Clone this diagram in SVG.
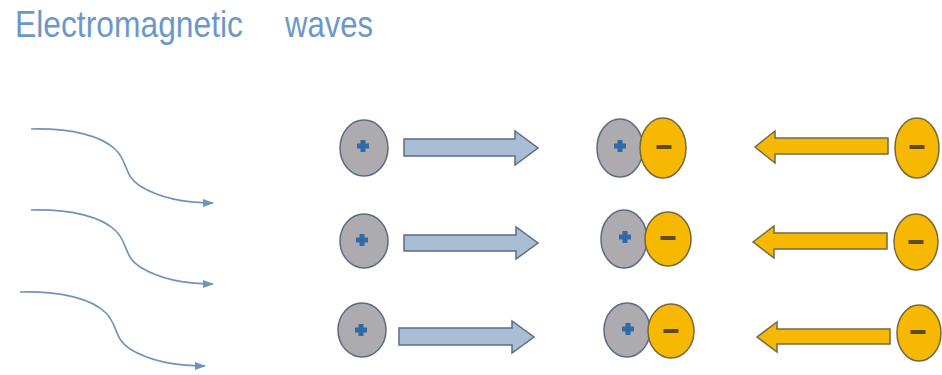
<svg xmlns="http://www.w3.org/2000/svg" width="942" height="375" viewBox="0 0 942 375">
<style>
.title{font-family:"Liberation Sans",Arial,sans-serif;font-size:36px;fill:#6b98c9}
.wave{fill:none;stroke:#6f94ba;stroke-width:1.6}
.pos{fill:#adaab0;stroke:#5c6c80;stroke-width:1.5}
.neg{fill:#f6b800;stroke:#76683a;stroke-width:1.5}
.plus{fill:#2f6aa6}
.minus{fill:#5b4b22}
.barrow{fill:#a9bdd5;stroke:#5a6d82;stroke-width:1.5;stroke-linejoin:miter}
.yarrow{fill:#f6b800;stroke:#6e6a4c;stroke-width:1.5;stroke-linejoin:miter}
</style>
<defs>
<marker id="ah" markerUnits="userSpaceOnUse" markerWidth="12" markerHeight="10" refX="10" refY="4" orient="auto">
<path d="M0,0 L11,4 L0,8 Z" fill="#6f94ba"/>
</marker>
<g id="plusSign"><rect x="-6" y="-2.5" width="12" height="5" class="plus"/><rect x="-2.5" y="-6" width="5" height="12" class="plus"/></g>
<g id="minusSign"><rect x="-7.5" y="-2" width="15" height="4" class="minus"/></g>
</defs>
<rect width="942" height="375" fill="#ffffff"/>
<g id="title">
<text class="title" x="15" y="37" textLength="228" lengthAdjust="spacingAndGlyphs">Electromagnetic</text>
<text class="title" x="285" y="37" textLength="88" lengthAdjust="spacingAndGlyphs">waves</text>
</g>
<g id="connectors">
<path class="wave" marker-end="url(#ah)" d="M31,129 C72,128 102,136 116,150 C128,162 124,176 140,186 C158,197 182,203 213,203"/>
<path class="wave" marker-end="url(#ah)" d="M31,210 C72,209 102,217 116,231 C128,243 124,257 140,267 C158,278 182,284 213,284"/>
<path class="wave" marker-end="url(#ah)" d="M20,292 C62,291 92,299 106,313 C118,325 114,339 130,349 C148,360 172,366 205,366"/>
<path id="arrow-b1" class="barrow" d="M404,139 L515,139 L515,131 L538,148 L515,165 L515,156 L404,156 Z"/>
<path id="arrow-b2" class="barrow" d="M404,235 L516,235 L516,227 L538,243 L516,259 L516,251 L404,251 Z"/>
<path id="arrow-b3" class="barrow" d="M399,328 L512,328 L512,321 L534,337 L512,353 L512,345 L399,345 Z"/>
<path id="arrow-y1" class="yarrow" d="M888,138 L775,138 L775,131 L755,147 L775,163 L775,154 L888,154 Z"/>
<path id="arrow-y2" class="yarrow" d="M887,233 L774,233 L774,226 L753,242 L774,258 L774,249 L887,249 Z"/>
<path id="arrow-y3" class="yarrow" d="M890,329 L777,329 L777,322 L757,337 L777,352 L777,344 L890,344 Z"/>
</g>
<g id="pos1"><ellipse class="pos" cx="364" cy="148" rx="24" ry="28"/><use href="#plusSign" x="363" y="146"/></g>
<g id="pos2"><ellipse class="pos" cx="364" cy="241" rx="24" ry="27"/><use href="#plusSign" x="362" y="240"/></g>
<g id="pos3"><ellipse class="pos" cx="362" cy="330" rx="24" ry="27"/><use href="#plusSign" x="361" y="330"/></g>
<g id="pair1"><ellipse class="pos" cx="620" cy="148" rx="23" ry="29"/><use href="#plusSign" x="620" y="146"/><ellipse class="neg" cx="663" cy="148" rx="23" ry="30"/><use href="#minusSign" x="664" y="147"/></g>
<g id="pair2"><ellipse class="pos" cx="624" cy="239" rx="23" ry="29"/><use href="#plusSign" x="625" y="237"/><ellipse class="neg" cx="668" cy="239" rx="23" ry="27"/><use href="#minusSign" x="668" y="238"/></g>
<g id="pair3"><ellipse class="pos" cx="627" cy="330" rx="23" ry="27"/><use href="#plusSign" x="628" y="329"/><ellipse class="neg" cx="671" cy="331" rx="23" ry="27"/><use href="#minusSign" x="671" y="331"/></g>
<g id="neg1"><ellipse class="neg" cx="917" cy="148" rx="22" ry="30"/><use href="#minusSign" x="917" y="147"/></g>
<g id="neg2"><ellipse class="neg" cx="916" cy="242" rx="22" ry="28"/><use href="#minusSign" x="916" y="242"/></g>
<g id="neg3"><ellipse class="neg" cx="919" cy="333" rx="22" ry="28"/><use href="#minusSign" x="918" y="332"/></g>
</svg>
